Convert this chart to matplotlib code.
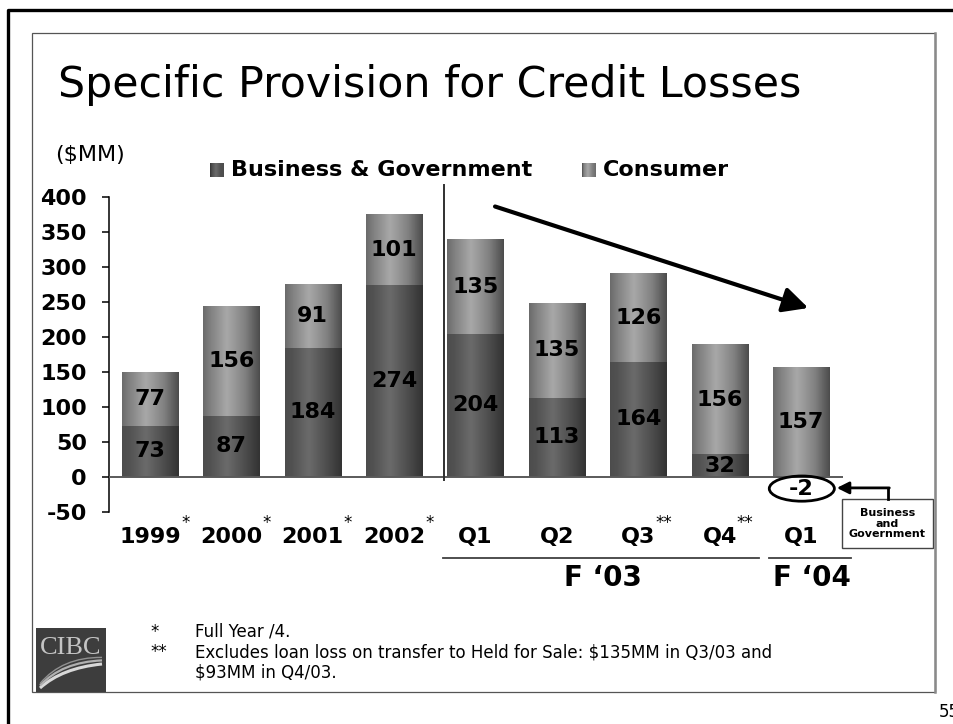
import numpy as np
import matplotlib
matplotlib.use('Agg')
import matplotlib.pyplot as plt
from matplotlib.patches import Rectangle, Ellipse, PathPatch
from matplotlib.path import Path
from matplotlib.lines import Line2D
from matplotlib.transforms import Affine2D

plt.rcParams['font.family'] = ['DejaVu Sans']

# 期間ラベルと注記
periods = ['1999', '2000', '2001', '2002', 'Q1', 'Q2', 'Q3', 'Q4', 'Q1']
notes = ['*', '*', '*', '*', '', '', '**', '**', '']
# 貸倒引当金 ($MM)
business = [73, 87, 184, 274, 204, 113, 164, 32, -2]
consumer = [77, 156, 91, 101, 135, 135, 126, 156, 157]
y_ticks = [-50, 0, 50, 100, 150, 200, 250, 300, 350, 400]
groups = ["F \u201803", "F \u201804"]

W, H = 954, 724
fig = plt.figure(figsize=(W / 100, H / 100), dpi=100)
fig.patch.set_facecolor('white')
# スライド上のピクセル座標 (左上原点)
pix = Affine2D().scale(1 / W, -1 / H).translate(0, 1) + fig.transFigure


def fx(x):
    return x / W


def fy(y):
    return 1 - y / H


# ── スライド枠 ──
fig.add_artist(Line2D([8, 8, W], [H, 10, 10], color='black', lw=2.4, transform=pix))
fig.add_artist(Rectangle((32, 33), 903, 659, fill=False, edgecolor='#555555',
                         lw=0.9, transform=pix))
fig.add_artist(Line2D([935, 935], [33, 692], color='#8a8a8a', lw=1.8, transform=pix))

fig.text(fx(58), fy(97), 'Specific Provision for Credit Losses', fontsize=30.8,
         va='baseline', ha='left')
fig.text(fx(55), fy(155), '($MM)', fontsize=16, va='center', ha='left')

ax = fig.add_axes([fx(109), fy(511.7), fx(843) - fx(109), fy(196.7) - fy(511.7)])
ax.set_facecolor('none')

x = np.arange(len(periods))
width = 0.69
bus = np.array(business)
con = np.array(consumer)
con_bottom = np.maximum(bus, 0)

bars_b = ax.bar(x, bus, width, color='none', edgecolor='none')
bars_c = ax.bar(x, con, width, bottom=con_bottom, color='none', edgecolor='none')

# 円柱風の横グラデーション
STOPS = [0.0, 0.12, 0.42, 0.75, 1.0]
SHADE_B = [0.30, 0.32, 0.42, 0.30, 0.20]
SHADE_C = [0.42, 0.50, 0.66, 0.50, 0.30]


def gradient(vals, n=64):
    return np.interp(np.linspace(0, 1, n), STOPS, vals)[None, :]


for bars, vals in [(bars_b, SHADE_B), (bars_c, SHADE_C)]:
    g = gradient(vals)
    for b in bars:
        x0, y0, w, h = b.get_x(), b.get_y(), b.get_width(), b.get_height()
        ax.imshow(g, extent=[x0, x0 + w, min(y0, y0 + h), max(y0, y0 + h)],
                  aspect='auto', cmap='gray', vmin=0, vmax=1,
                  interpolation='bilinear', zorder=2)

lab = dict(ha='center', va='center', fontsize=16, fontweight='bold', zorder=5)
for i in x:
    if bus[i] > 0:
        ax.text(i, bus[i] / 2, str(bus[i]), **lab)
    ax.text(i, con_bottom[i] + con[i] / 2, str(con[i]), **lab)

# マイナス値 (F'04 Q1 の Business & Government)
neg = int(np.argmin(bus))
ax.text(neg, -17, str(bus[neg]), clip_on=False, **lab)
ax.add_patch(Ellipse((neg + 0.01, -17), 0.80, 36, fill=False, edgecolor='black',
                     lw=2, clip_on=False, zorder=6))

ax.set_xlim(-0.504, 8.516)
ax.set_ylim(-50, 400)
ax.axhline(0, color='#5a5a5a', lw=1.4, zorder=3)

for s in ['top', 'right', 'bottom']:
    ax.spines[s].set_visible(False)
ax.spines['left'].set_linewidth(1.1)
ax.set_yticks(y_ticks)
ax.set_yticklabels([str(t) for t in y_ticks], fontsize=16, fontweight='bold')
ax.tick_params(axis='y', direction='out', length=5, width=1.1, pad=11)
ax.set_xticks([])

# 期間ラベル
for i, (p, n) in enumerate(zip(periods, notes)):
    ax.text(i, -86, p, ha='center', va='center', fontsize=16, fontweight='bold',
            clip_on=False)
    if n:
        off = 31 if len(p) == 4 else 17
        ax.annotate(n, xy=(i, -86), xytext=(off, 14), textcoords='offset pixels',
                    ha='left', va='center', fontsize=12, clip_on=False,
                    annotation_clip=False)

# 年次 / 四半期の区切り線
x_div = 3.61
ax.plot([x_div, x_div], [-5, 417], color='#303030', lw=1.4, clip_on=False, zorder=4)

# 会計年度のまとめ線
for (a, b), name in zip([(3.60, 7.48), (7.61, 8.61)], groups):
    ax.plot([a, b], [-116, -116], color='#404040', lw=1.3, clip_on=False)
    ax.text((a + b) / 2 + 0.03, -145, name, ha='center', va='center', fontsize=20,
            fontweight='bold', clip_on=False)

# 減少傾向の矢印
ax.annotate('', xy=(8.09, 241), xytext=(4.24, 386),
            arrowprops=dict(arrowstyle='-|>', lw=3, color='black', mutation_scale=38,
                            shrinkA=0, shrinkB=0),
            annotation_clip=False)

# 注記ボックス
ax.add_patch(Rectangle((8.50, -102), 1.12, 70, facecolor='white', edgecolor='#444444',
                       lw=1, clip_on=False, zorder=6))
ax.text(9.06, -67, 'Business\nand\nGovernment', ha='center', va='center', fontsize=8,
        fontweight='bold', linespacing=1.05, clip_on=False, zorder=7)
ax.plot([9.07, 9.07], [-32, -16], color='black', lw=2, clip_on=False, zorder=6)
ax.annotate('', xy=(8.44, -16), xytext=(9.085, -16),
            arrowprops=dict(arrowstyle='-|>', lw=2, color='black', mutation_scale=18,
                            shrinkA=0, shrinkB=0),
            annotation_clip=False)

# 凡例
legend_items = [('Business & Government', SHADE_B, 210), ('Consumer', SHADE_C, 582)]
for name, vals, lx in legend_items:
    sq = fig.add_axes([fx(lx), fy(177), 14 / W, 14 / H])
    sq.imshow(gradient(vals[::-1]), aspect='auto', cmap='gray', vmin=0, vmax=1,
              interpolation='bilinear')
    sq.axis('off')
    fig.text(fx(lx + 21), fy(170), name, fontsize=16, fontweight='bold',
             va='center', ha='left')

# ロゴ
fig.add_artist(Rectangle((36, 628), 70, 64, facecolor='#3d3d3d', edgecolor='none',
                         transform=pix))
fig.text(fx(71), fy(648), 'CIBC', family='Liberation Serif', fontsize=19,
         color='#c4c4c4', ha='center', va='center')
for dy, lw, col in [(0, 2.2, '#d8d8d8'), (6, 1.6, '#b0b0b0'), (11, 1.0, '#909090')]:
    verts = [(40, 688 - dy * 0.4), (62, 668 - dy), (102, 664 - dy * 0.6)]
    fig.add_artist(PathPatch(Path(verts, [Path.MOVETO, Path.CURVE3, Path.CURVE3]),
                             fill=False, edgecolor=col, lw=lw, transform=pix))

# 脚注
foot = dict(fontsize=12, va='center', ha='left')
fig.text(fx(150), fy(632), '*', **foot)
fig.text(fx(195), fy(632), 'Full Year /4.', **foot)
fig.text(fx(150), fy(652), '**', **foot)
fig.text(fx(195), fy(652),
         'Excludes loan loss on transfer to Held for Sale: $135MM in Q3/03 and', **foot)
fig.text(fx(195), fy(673), '$93MM in Q4/03.', **foot)

fig.text(fx(939), fy(712), '55', fontsize=12, va='center', ha='left')

fig.savefig('out.png', dpi=100)
